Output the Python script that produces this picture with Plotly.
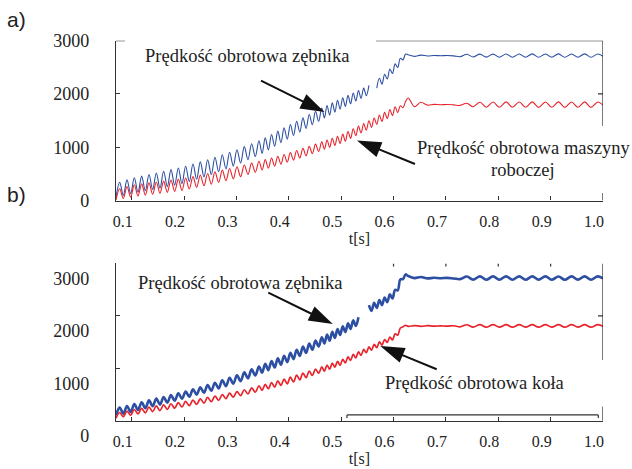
import plotly.graph_objects as go

# ---------------- data ----------------
# time samples [s] (extremes of the oscillations)
t = [
    0.070, 0.077, 0.084, 0.091, 0.098, 0.105, 0.112, 0.119, 0.126, 0.133,
    0.140, 0.147, 0.154, 0.161, 0.168, 0.175, 0.182, 0.189, 0.196, 0.203,
    0.210, 0.217, 0.224, 0.231, 0.238, 0.245, 0.252, 0.259, 0.266, 0.273,
    0.280, 0.287, 0.294, 0.301, 0.308, 0.315, 0.322, 0.329, 0.336, 0.343,
    0.349, 0.355, 0.361, 0.367, 0.373, 0.379, 0.385, 0.391, 0.397, 0.403,
    0.409, 0.415, 0.421, 0.427, 0.433, 0.439, 0.445, 0.451, 0.457, 0.463,
    0.468, 0.473, 0.478, 0.483, 0.488, 0.493, 0.498, 0.503, 0.508, 0.513,
    0.518, 0.523, 0.528, 0.533, 0.538, 0.543, 0.548, 0.553, 0.558, 0.563,
    0.568, 0.573, 0.578, 0.583, 0.588, 0.593, 0.598, 0.603, 0.608, 0.613,
    0.618, 0.623, 0.628, 0.640, 0.652, 0.665, 0.677, 0.690, 0.702, 0.715,
    0.727, 0.740, 0.752, 0.765, 0.777, 0.790, 0.802, 0.815, 0.827, 0.840,
    0.852, 0.865, 0.877, 0.890, 0.902, 0.915, 0.927, 0.940, 0.952, 0.965,
    0.977, 0.990, 1.000,
]

# a) pinion speed [obr/min]
top_pinion = [
    60, 342, 95, 387, 130, 426, 157, 457, 182, 487,
    208, 517, 233, 549, 261, 579, 289, 611, 317, 644,
    356, 685, 399, 726, 442, 766, 487, 811, 540, 860,
    593, 907, 646, 954, 705, 1011, 766, 1066, 828, 1122,
    885, 1176, 951, 1239, 1018, 1302, 1086, 1363, 1153, 1426,
    1221, 1488, 1287, 1551, 1354, 1614, 1422, 1675, 1487, 1736,
    1548, 1784, 1603, 1833, 1659, 1881, 1714, 1928, 1765, 1974,
    1816, 2019, 1867, 2064, 1918, 2109, 1969, 2161, None, None,
    2111, 2295, 2184, 2371, 2280, 2468, 2384, 2565, 2498, 2670,
    2640, 2750, 2735, 2705, 2730, 2712, 2722, 2718, 2722, 2716,
    2700, 2745, 2695, 2748, 2692, 2748, 2690, 2750, 2690, 2750,
    2690, 2752, 2688, 2750, 2690, 2752, 2688, 2750, 2690, 2752,
    2690, 2750, 2705,
]

# a) working machine speed
top_machine = [
    10, 221, 38, 263, 66, 296, 84, 313, 101, 330,
    118, 346, 135, 364, 153, 383, 172, 401, 190, 421,
    217, 449, 246, 478, 277, 508, 307, 538, 340, 570,
    373, 601, 406, 633, 446, 667, 489, 702, 531, 738,
    572, 768, 609, 799, 646, 832, 682, 864, 718, 898,
    758, 938, 798, 978, 838, 1017, 879, 1058, 921, 1100,
    961, 1135, 997, 1170, 1032, 1206, 1068, 1246, 1115, 1296,
    1167, 1346, 1217, 1396, 1268, 1446, 1319, 1497, 1373, 1550,
    1428, 1603, 1483, 1655, 1537, 1708, 1593, 1760, 1650, 1780,
    1740, 1860, 1925, 1760, 1845, 1790, 1805, 1798, 1802, 1795,
    1785, 1825, 1760, 1845, 1752, 1850, 1750, 1852, 1750, 1850,
    1750, 1852, 1748, 1850, 1750, 1852, 1748, 1850, 1750, 1852,
    1748, 1850, 1790,
]

# b) pinion speed
bottom_pinion = [
    105, 250, 135, 280, 165, 317, 204, 352, 239, 387,
    275, 421, 307, 451, 344, 487, 382, 521, 419, 558,
    457, 598, 495, 639, 532, 681, 570, 725, 615, 772,
    660, 819, 705, 867, 754, 922, 808, 979, 864, 1034,
    914, 1084, 965, 1137, 1015, 1189, 1067, 1240, 1117, 1295,
    1175, 1354, 1233, 1413, 1293, 1471, 1352, 1528, 1415, 1591,
    1473, 1644, 1526, 1696, 1580, 1749, 1634, 1801, 1690, 1859,
    1750, 1915, 1808, 1973, None, None, None, 2205, 2095, 2250,
    2148, 2302, 2204, 2350, 2260, 2410, 2330, 2495, 2485, 2695,
    2700, 2790, 2760, 2720, 2740, 2715, 2725, 2718, 2724, 2712,
    2700, 2750, 2690, 2752, 2688, 2752, 2688, 2752, 2688, 2752,
    2688, 2752, 2690, 2752, 2688, 2750, 2688, 2752, 2690, 2752,
    2688, 2752, 2712,
]

# b) wheel speed
bottom_wheel = [
    48, 156, 76, 184, 104, 214, 129, 236, 151, 258,
    174, 281, 193, 300, 216, 323, 238, 346, 261, 368,
    286, 393, 311, 418, 336, 443, 363, 467, 388, 497,
    420, 524, 448, 553, 478, 590, 511, 627, 545, 663,
    578, 694, 609, 728, 639, 761, 671, 795, 702, 830,
    740, 870, 780, 908, 821, 946, 862, 985, 905, 1027,
    945, 1062, 982, 1097, 1020, 1132, 1057, 1169, 1103, 1217,
    1151, 1265, 1199, 1313, 1247, 1360, 1297, 1407, 1345, 1455,
    1394, 1502, 1443, 1549, 1492, 1596, 1541, 1658, 1632, 1768,
    1790, 1820, 1800, 1815, 1800, 1812, 1802, 1810, 1803, 1811,
    1790, 1830, 1785, 1832, 1783, 1833, 1784, 1832, 1783, 1833,
    1784, 1832, 1783, 1833, 1784, 1832, 1783, 1833, 1784, 1832,
    1783, 1832, 1800,
]

x_ticks = [0.1, 0.2, 0.3, 0.4, 0.5, 0.6, 0.7, 0.8, 0.9, 1.0]
x_tick_labels = ["0.1", "0.2", "0.3", "0.4", "0.5", "0.6", "0.7", "0.8", "0.9", "1.0"]
y_ticks = [0, 1000, 2000, 3000]
y_tick_labels = ["0", "1000", "2000", "3000"]

label_pinion = "Prędkość obrotowa zębnika"
label_machine_1 = "Prędkość obrotowa maszyny"
label_machine_2 = "roboczej"
label_wheel = "Prędkość obrotowa koła"
x_title = "t[s]"

# ---------------- style ----------------
W, H = 632, 469
BLUE = "#2c4fa3"
RED = "#e8232b"
INK = "#222222"
FRAME = "#333333"
SERIF = "Liberation Serif"
SANS = "Liberation Sans"

X_DOM = [116 / W, 603 / W]
TOP_DOM = [1 - 200.5 / H, 1 - 40.7 / H]
BOT_DOM = [1 - 420.7 / H, 1 - 263.4 / H]

fig = go.Figure()
fig.add_trace(go.Scatter(x=t, y=top_pinion, mode="lines", xaxis="x", yaxis="y",
                         line=dict(color=BLUE, width=1.1, shape="spline", smoothing=1),
                         hoverinfo="skip"))
fig.add_trace(go.Scatter(x=t, y=top_machine, mode="lines", xaxis="x", yaxis="y",
                         line=dict(color=RED, width=1.1, shape="spline", smoothing=1),
                         hoverinfo="skip"))
fig.add_trace(go.Scatter(x=t, y=bottom_pinion, mode="lines", xaxis="x2", yaxis="y2",
                         line=dict(color=BLUE, width=2.6, shape="spline", smoothing=1),
                         hoverinfo="skip"))
fig.add_trace(go.Scatter(x=t, y=bottom_wheel, mode="lines", xaxis="x2", yaxis="y2",
                         line=dict(color=RED, width=1.7, shape="spline", smoothing=1),
                         hoverinfo="skip"))


def x_axis(anchor):
    return dict(
        domain=X_DOM, anchor=anchor, range=[0.07, 1.0],
        tickmode="array", tickvals=x_ticks, ticktext=x_tick_labels,
        ticks="inside", ticklen=4, tickwidth=1.2, tickcolor=FRAME,
        showline=True, linecolor=FRAME, linewidth=1.3,
        showgrid=False, zeroline=False, automargin=False,
        tickfont=dict(family=SERIF, size=16, color=INK),
        ticklabelshift=-9, ticklabelstandoff=6,
        title=dict(text=x_title, font=dict(family=SERIF, size=16, color=INK), standoff=3),
    )


def y_axis(anchor, domain, shift):
    return dict(
        domain=domain, anchor=anchor, range=[0, 3000],
        tickmode="array", tickvals=y_ticks, ticktext=y_tick_labels,
        ticks="inside", ticklen=4, tickwidth=1.2, tickcolor=FRAME,
        showline=True, linecolor=FRAME, linewidth=1.3,
        showgrid=False, zeroline=False, automargin=False,
        tickfont=dict(family=SERIF, size=18, color=INK),
        ticklabelstandoff=22, ticklabelshift=shift,
    )


fig.update_layout(
    width=W, height=H, autosize=False,
    margin=dict(l=0, r=0, t=0, b=0),
    paper_bgcolor="white", plot_bgcolor="white", showlegend=False,
    xaxis=x_axis("y"), yaxis=y_axis("x", TOP_DOM, 0),
    xaxis2=x_axis("y2"), yaxis2=y_axis("x2", BOT_DOM, 15),
)

# ---------------- partial frame pieces ----------------
shapes = []


def seg(xr, yr, x0, y0, x1, y1):
    shapes.append(dict(type="line", xref=xr, yref=yr, x0=x0, y0=y0, x1=x1, y1=y1,
                       line=dict(color=FRAME, width=1.3)))


def pix_tick(xr, yr, xa, ya, dx, dy):
    shapes.append(dict(type="line", xref=xr, yref=yr, xsizemode="pixel", ysizemode="pixel",
                       xanchor=xa, yanchor=ya, x0=0, y0=0, x1=dx, y1=dy,
                       line=dict(color=FRAME, width=1.2)))


# top panel
seg("x", "y", 0.5665, 3000, 1.0, 3000)
seg("x", "y", 0.07, 3000, 0.0872, 3000)
seg("x", "y", 1.0, 3000, 1.0, 1400)
seg("x", "y", 1.0, 140, 1.0, 0)
pix_tick("x", "y", 1.0, 2000, -5, 0)
# bottom panel
seg("x2", "y2", 1.0, 3000, 1.0, 1160)
seg("x2", "y2", 1.0, 270, 1.0, 0)
pix_tick("x2", "y2", 1.0, 2000, -5, 0)
for xv in [0.6, 0.7, 0.8, 0.9]:
    pix_tick("x2", "y2", xv, 3000, 0, -3)
seg("x2", "y2", 0.511, 110, 0.991, 110)
pix_tick("x2", "y2", 0.511, 110, 0, -3)
pix_tick("x2", "y2", 0.991, 110, 0, -3)

# ---------------- arrows (pixel paths anchored at the tip) ----------------
arrows = [
    ("x", "y", 0.4628, 1686, "M -60.7,30 L -17.9,8.9 M 0,0 L -15.05,14.69 L -20.81,3.03 Z"),
    ("x", "y", 0.5359, 1104, "M 55,-22.3 L 18.5,-7.5 M 0,0 L 16.11,-13.55 L 20.99,-1.49 Z"),
    ("x2", "y2", 0.4786, 1869, "M -61.7,30 L -18,8.7 M 0,0 L -15.15,14.6 L -20.83,2.9 Z"),
    ("x2", "y2", 0.5804, 1400, "M 53.4,-22 L 18.5,-7.6 M 0,0 L 16.01,-13.63 L 20.97,-1.61 Z"),
]
for xr, yr, xa, ya, p in arrows:
    shapes.append(dict(type="path", xref=xr, yref=yr, xsizemode="pixel", ysizemode="pixel",
                       xanchor=xa, yanchor=ya, path=p,
                       line=dict(color="#111111", width=2), fillcolor="#111111"))

fig.update_layout(shapes=shapes)

# ---------------- texts ----------------
def txt(text, px, py, size=18.5, family=SERIF):
    fig.add_annotation(text=text, xref="paper", yref="paper", x=px / W, y=1 - py / H,
                       xanchor="center", yanchor="middle", showarrow=False,
                       font=dict(family=family, size=size, color=INK))


txt("a)", 16.7, 19, size=21, family=SANS)
txt("b)", 16.7, 194, size=21, family=SANS)
txt(label_pinion, 247.3, 56)
txt(label_machine_1, 523, 148.3)
txt(label_machine_2, 523.3, 170)
txt(label_pinion, 240, 283.3)
txt(label_wheel, 474.2, 383.3)

fig.write_html("out.html")
